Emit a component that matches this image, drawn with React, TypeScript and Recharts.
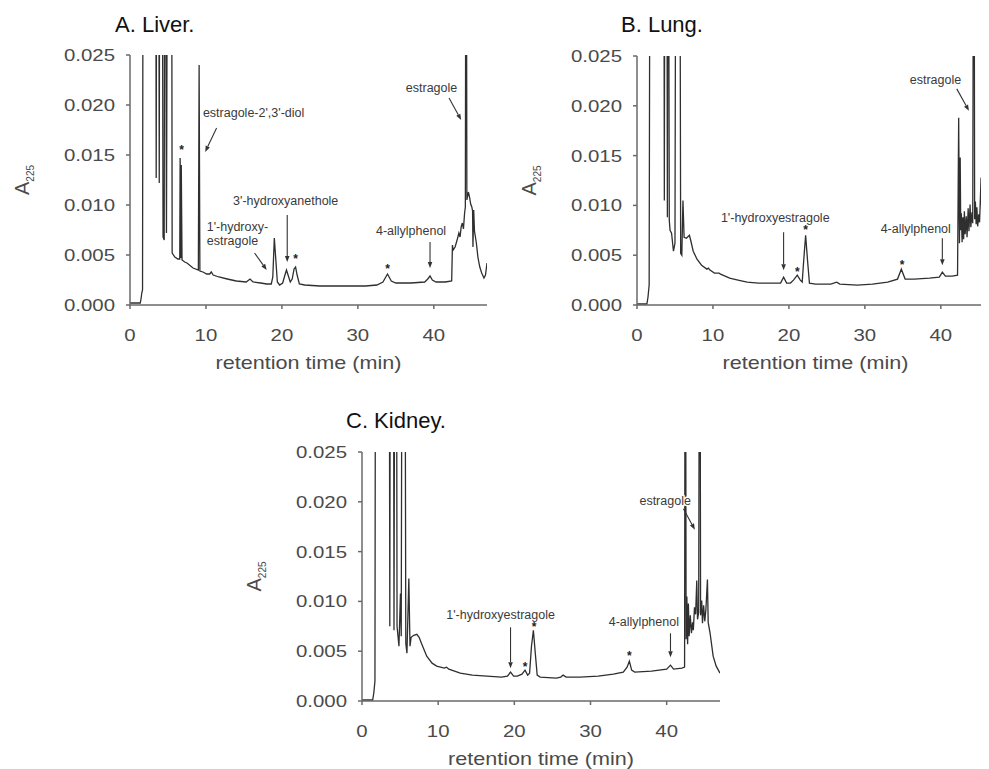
import React from "react";
import { LineChart, Line, XAxis, YAxis, ReferenceLine, ReferenceDot } from "recharts";

type Pt = [number, number];
type Note = { t: number; v: number; text: string; anchor: "start" | "middle" | "end" };
type Arrow = [number, number, number, number];

// retention time (min) vs A225
const timeTicks = [0, 10, 20, 30, 40];
const absTicks = [0, 0.005, 0.01, 0.015, 0.02, 0.025];

// values above 0.025 are off-scale peaks (clipped by the plot)
const liverTrace: Pt[] = [
  [0, 0.0002], [1.35, 0.0002], [1.45, 0.0006], [1.55, 0.0012], [1.65, 0.0015], [1.75, 0.06],
  [3.35, 0.06], [3.45, 0.0127], [3.55, 0.06], [3.75, 0.06], [3.85, 0.0122], [3.95, 0.06],
  [4.2, 0.06], [4.35, 0.0068], [4.5, 0.0065], [4.6, 0.06], [4.8, 0.0072], [5.0, 0.06],
  [5.45, 0.06], [5.55, 0.0052], [5.9, 0.0048], [6.3, 0.0046], [6.55, 0.0046], [6.6, 0.0147],
  [6.68, 0.0047], [6.75, 0.014], [6.85, 0.0045], [7.2, 0.0043], [7.5, 0.0042], [8.3, 0.0037],
  [9.0, 0.0035], [9.1, 0.024], [9.2, 0.0034], [9.6, 0.0033], [10.1, 0.0031], [10.5, 0.0031],
  [10.7, 0.0033], [10.95, 0.003], [11.7, 0.0028], [12.8, 0.0026], [14.0, 0.0024], [15.3, 0.0023],
  [15.8, 0.0026], [16.2, 0.0023], [17.2, 0.0022], [18.0, 0.0021], [18.6, 0.0021], [18.8, 0.0028],
  [19.0, 0.0067], [19.2, 0.0045], [19.4, 0.0023], [19.7, 0.002], [20.1, 0.0022], [20.4, 0.003],
  [20.6, 0.0035], [20.85, 0.0029], [21.1, 0.0023], [21.35, 0.0026], [21.6, 0.0036], [21.8, 0.0038],
  [22.0, 0.003], [22.3, 0.0021], [23, 0.002], [25, 0.0019], [28, 0.0019], [31, 0.0019],
  [32.5, 0.002], [33.3, 0.0023], [33.9, 0.0031], [34.4, 0.0024], [35, 0.0022], [37, 0.0022],
  [38.8, 0.0023], [39.2, 0.0026], [39.5, 0.0029], [39.8, 0.0025], [40.3, 0.0023], [41.5, 0.0023],
  [42.35, 0.0024], [42.45, 0.006], [42.55, 0.0055], [42.8, 0.0058], [43.1, 0.0066], [43.3, 0.0072],
  [43.45, 0.0068], [43.6, 0.0078], [43.75, 0.0082], [43.9, 0.0076], [44.05, 0.0092], [44.15, 0.0098],
  [44.25, 0.06], [44.35, 0.0105], [44.55, 0.0113], [44.7, 0.0108], [44.85, 0.0101], [45.0, 0.0098],
  [45.1, 0.0094], [45.15, 0.0058], [45.25, 0.0095], [45.35, 0.0074], [45.6, 0.0062], [45.8, 0.0048],
  [46.05, 0.0038], [46.3, 0.0032], [46.6, 0.0027], [46.8, 0.003], [47, 0.0042],
];

const lungTrace: Pt[] = [
  [0, 0.0001], [1.3, 0.0001], [1.45, 0.0008], [1.6, 0.002], [1.75, 0.06], [3.5, 0.06],
  [3.6, 0.0105], [3.7, 0.06], [3.9, 0.06], [4.0, 0.0088], [4.1, 0.06], [4.25, 0.0085],
  [4.35, 0.0075], [4.55, 0.0072], [4.8, 0.0054], [5.0, 0.0062], [5.15, 0.06], [5.6, 0.06],
  [5.75, 0.0052], [5.9, 0.005], [6.05, 0.0105], [6.2, 0.0068], [6.5, 0.0067], [6.9, 0.007],
  [7.1, 0.0064], [7.4, 0.0054], [7.9, 0.0046], [8.5, 0.004], [9.2, 0.0036], [9.4, 0.0037],
  [9.6, 0.0035], [10.2, 0.0032], [10.8, 0.0032], [11.0, 0.0031], [12.2, 0.0027], [13.3, 0.0025],
  [14.5, 0.0023], [16, 0.0022], [17.5, 0.0022], [18.9, 0.0022], [19.3, 0.0028], [19.7, 0.0022],
  [20.2, 0.0022], [20.6, 0.0025], [21.1, 0.003], [21.5, 0.0025], [21.75, 0.0023], [21.95, 0.0045],
  [22.2, 0.007], [22.45, 0.0045], [22.7, 0.0022], [23.5, 0.0021], [25.5, 0.0021], [26.3, 0.0023],
  [26.7, 0.0021], [29, 0.002], [31, 0.0021], [33, 0.0023], [34.3, 0.0026], [34.8, 0.0036],
  [35.3, 0.0026], [36.5, 0.0026], [38.5, 0.0027], [39.8, 0.0028], [40.2, 0.0033], [40.6, 0.0029],
  [41.5, 0.0029], [42.2, 0.003], [42.35, 0.0188], [42.45, 0.0062], [42.55, 0.0148], [42.62, 0.0075],
  [42.7, 0.0092], [42.8, 0.0063], [42.9, 0.0088], [43.0, 0.0066], [43.1, 0.0094], [43.2, 0.0071],
  [43.35, 0.0089], [43.45, 0.0068], [43.6, 0.0097], [43.7, 0.0074], [43.85, 0.0101], [43.95, 0.0078],
  [44.1, 0.0093], [44.2, 0.0082], [44.35, 0.06], [44.45, 0.0086], [44.55, 0.0104], [44.65, 0.0081],
  [44.75, 0.0098], [44.85, 0.0079], [45.0, 0.0091], [45.1, 0.0083], [45.3, 0.0128], [45.4, 0.0084],
  [45.6, 0.0074], [45.8, 0.0058], [46.1, 0.0042], [46.4, 0.0034], [46.7, 0.003], [47, 0.0028],
];

const kidneyTrace: Pt[] = [
  [0, 0.0001], [1.4, 0.0001], [1.55, 0.0008], [1.7, 0.002], [1.8, 0.06], [3.55, 0.06],
  [3.65, 0.0075], [3.75, 0.06], [4.1, 0.06], [4.2, 0.0071], [4.35, 0.06], [4.5, 0.06],
  [4.6, 0.0075], [4.85, 0.0055], [5.05, 0.0108], [5.15, 0.0065], [5.3, 0.06], [5.6, 0.06],
  [5.75, 0.0058], [5.9, 0.0048], [6.15, 0.0123], [6.3, 0.0055], [6.45, 0.0064], [6.8, 0.0066],
  [7.2, 0.0067], [7.5, 0.0064], [7.8, 0.0058], [8.5, 0.0045], [9.2, 0.0038], [9.8, 0.0035],
  [10.8, 0.0033], [11.1, 0.0034], [11.4, 0.0032], [12.9, 0.0028], [14.5, 0.0026], [16.4, 0.0025],
  [18.3, 0.0024], [19.1, 0.0025], [19.5, 0.0029], [19.9, 0.0025], [20.4, 0.0025], [21.0, 0.0027],
  [21.4, 0.0031], [21.75, 0.0026], [22.0, 0.0028], [22.25, 0.0055], [22.5, 0.0071], [22.75, 0.0048],
  [23.0, 0.0026], [23.4, 0.0024], [25.5, 0.0023], [26.1, 0.0024], [26.4, 0.0026], [26.8, 0.0024],
  [28.6, 0.0024], [31, 0.0025], [33, 0.0027], [34.3, 0.0029], [34.8, 0.0034], [35.1, 0.004],
  [35.4, 0.0031], [35.8, 0.0029], [38, 0.003], [40.0, 0.0032], [40.5, 0.0036], [40.9, 0.0032],
  [42.0, 0.0033], [42.35, 0.0034], [42.45, 0.06], [42.55, 0.0062], [42.65, 0.0105], [42.75, 0.0057],
  [42.85, 0.0098], [42.95, 0.0065], [43.1, 0.0086], [43.25, 0.0068], [43.4, 0.0079], [43.5, 0.0071],
  [43.65, 0.0094], [43.8, 0.0087], [43.95, 0.0121], [44.05, 0.0082], [44.2, 0.0089], [44.35, 0.06],
  [44.45, 0.0086], [44.6, 0.0101], [44.7, 0.0078], [44.85, 0.0096], [45.0, 0.008], [45.15, 0.0092],
  [45.35, 0.0122], [45.45, 0.0079], [45.7, 0.0068], [46.1, 0.0045], [46.5, 0.0035], [47, 0.0028],
];

// peak labels, arrows [t1, v1, t2, v2] and "*" marks, in data units
const liverLabels: Note[] = [
  { t: 9.6, v: 0.0192, text: "estragole-2',3'-diol", anchor: "start" },
  { t: 10.1, v: 0.0078, text: "1'-hydroxy-", anchor: "start" },
  { t: 10.1, v: 0.0064, text: "estragole", anchor: "start" },
  { t: 20.5, v: 0.0104, text: "3'-hydroxyanethole", anchor: "middle" },
  { t: 37.0, v: 0.0074, text: "4-allylphenol", anchor: "middle" },
  { t: 39.7, v: 0.0217, text: "estragole", anchor: "middle" },
];
const liverArrows: Arrow[] = [
  [11.4, 0.0177, 9.9, 0.0153],
  [16.4, 0.0052, 18.0, 0.0035],
  [20.7, 0.009, 20.7, 0.0043],
  [39.5, 0.0063, 39.5, 0.0037],
  [42.0, 0.0207, 43.6, 0.0185],
];
const liverStars: Pt[] = [[6.8, 0.0157], [21.8, 0.0048], [33.9, 0.0038]];

const lungLabels: Note[] = [
  { t: 18.2, v: 0.0088, text: "1'-hydroxyestragole", anchor: "middle" },
  { t: 36.7, v: 0.0077, text: "4-allylphenol", anchor: "middle" },
  { t: 39.3, v: 0.0226, text: "estragole", anchor: "middle" },
];
const lungArrows: Arrow[] = [
  [19.3, 0.0073, 19.3, 0.0035],
  [40.2, 0.0067, 40.2, 0.004],
  [42.1, 0.0217, 43.7, 0.0195],
];
const lungStars: Pt[] = [[21.1, 0.0035], [22.2, 0.0077], [34.9, 0.0042]];

const kidneyLabels: Note[] = [
  { t: 18.2, v: 0.0087, text: "1'-hydroxyestragole", anchor: "middle" },
  { t: 37.0, v: 0.008, text: "4-allylphenol", anchor: "middle" },
  { t: 39.8, v: 0.0201, text: "estragole", anchor: "middle" },
];
const kidneyArrows: Arrow[] = [
  [19.5, 0.0074, 19.5, 0.0033],
  [40.5, 0.0068, 40.5, 0.0044],
  [42.2, 0.0193, 43.7, 0.0172],
];
const kidneyStars: Pt[] = [[21.4, 0.0036], [22.6, 0.0076], [35.1, 0.0047]];

const FONT = "'Liberation Sans', Arial, Helvetica, sans-serif";
const TEXT = "#4a4a4a";
const AXIS = "#6a6a6a";
const TRACE = "#2f2f2f";

const XTick = ({ x, y, payload }: any) => (
  <text transform={`translate(${x},${y}) scale(1.2,1)`} textAnchor="middle" dy="0.71em"
    fontSize={17} fill={TEXT} fontFamily={FONT}>
    {payload.value}
  </text>
);

const YTick = ({ x, y, payload }: any) => (
  <text transform={`translate(${x},${y}) scale(1.2,1)`} textAnchor="end" dy="0.355em"
    fontSize={17} fill={TEXT} fontFamily={FONT}>
    {Number(payload.value).toFixed(3)}
  </text>
);

const yLabel = (p: any) => {
  const vb = p.viewBox;
  const cx = vb.x + vb.width - 107;
  const cy = vb.y + vb.height / 2;
  return (
    <text transform={`translate(${cx},${cy}) rotate(-90)`} textAnchor="middle" dy="0.35em"
      fill={TEXT} fontFamily={FONT}>
      <tspan fontSize={20}>A</tspan>
      <tspan fontSize={10} dy={5}>225</tspan>
    </text>
  );
};

const xLabel = (p: any) => {
  const vb = p.viewBox;
  return (
    <text transform={`translate(${vb.x + vb.width / 2},${vb.y + 64}) scale(1.2,1)`}
      textAnchor="middle" fontSize={18} fill={TEXT} fontFamily={FONT}>
      retention time (min)
    </text>
  );
};

const arrowShape = (p: any) => {
  const { x1, y1, x2, y2 } = p;
  const a = Math.atan2(y2 - y1, x2 - x1);
  const L = 6, W = 2.3;
  const bx = x2 - L * Math.cos(a);
  const by = y2 - L * Math.sin(a);
  const pts = `${x2},${y2} ${bx - W * Math.sin(a)},${by + W * Math.cos(a)} ${bx + W * Math.sin(a)},${by - W * Math.cos(a)}`;
  return (
    <g>
      <line x1={x1} y1={y1} x2={bx} y2={by} stroke="#333" strokeWidth={1.1} />
      <polygon points={pts} fill="#333" />
    </g>
  );
};

interface PanelProps {
  title: string;
  trace: Pt[];
  labels: Note[];
  arrows: Arrow[];
  stars: Pt[];
  left: number;
  top: number;
  yAxisWidth: number;
  marginTop: number;
  plotW: number;
  plotH: number;
  titleLeft: number;
  titleTop: number;
}

function Panel(p: PanelProps) {
  const data = p.trace.map(([t, v]) => ({ t, v }));
  const width = p.yAxisWidth + p.plotW + 10;
  const height = p.marginTop + p.plotH + 70;
  return (
    <>
      <div style={{
        position: "absolute", left: p.titleLeft, top: p.titleTop, fontFamily: FONT,
        fontSize: 22, lineHeight: "22px", color: "#111", whiteSpace: "nowrap",
      }}>
        {p.title}
      </div>
      <div style={{ position: "absolute", left: p.left, top: p.top }}>
        <LineChart width={width} height={height} data={data}
          margin={{ top: p.marginTop, right: 10, bottom: 0, left: 0 }}>
          <XAxis type="number" dataKey="t" domain={[0, 47]} ticks={timeTicks} allowDataOverflow
            height={70} tickSize={4} tickMargin={20} tick={<XTick />}
            axisLine={{ stroke: AXIS, strokeWidth: 1.5 }} tickLine={{ stroke: AXIS, strokeWidth: 1.5 }}
            label={xLabel} />
          <YAxis type="number" domain={[0, 0.025]} ticks={absTicks} allowDataOverflow
            width={p.yAxisWidth} tickSize={4} tickMargin={11} tick={<YTick />}
            axisLine={{ stroke: AXIS, strokeWidth: 1.5 }} tickLine={{ stroke: AXIS, strokeWidth: 1.5 }}
            label={yLabel} />
          <Line type="linear" dataKey="v" stroke={TRACE} strokeWidth={1.3} dot={false}
            isAnimationActive={false} />
          {p.arrows.map((a, i) => (
            <ReferenceLine key={`a${i}`} segment={[{ x: a[0], y: a[1] }, { x: a[2], y: a[3] }]}
              shape={arrowShape} />
          ))}
          {p.labels.map((l, i) => (
            <ReferenceDot key={`l${i}`} x={l.t} y={l.v} r={0}
              shape={(s: any) => (
                <text x={s.cx} y={s.cy} dy="0.35em" textAnchor={l.anchor} fontSize={12.5}
                  fill="#3a3a3a" fontFamily={FONT} stroke="#fff" strokeWidth={3}
                  paintOrder="stroke" strokeLinejoin="round">
                  {l.text}
                </text>
              )} />
          ))}
          {p.stars.map((s, i) => (
            <ReferenceDot key={`s${i}`} x={s[0]} y={s[1]} r={0}
              shape={(d: any) => (
                <text x={d.cx} y={d.cy} dy={6} textAnchor="middle" fontSize={12} fontWeight="bold"
                  fill="#222" fontFamily={FONT}>
                  *
                </text>
              )} />
          ))}
        </LineChart>
      </div>
    </>
  );
}

export default function App() {
  return (
    <div style={{ position: "relative", width: 981, height: 761, overflow: "hidden", background: "#fff" }}>
      <Panel title="A. Liver." trace={liverTrace} labels={liverLabels} arrows={liverArrows} stars={liverStars}
        left={0} top={0} yAxisWidth={122} marginTop={47} plotW={357} plotH={250}
        titleLeft={107} titleTop={6} />
      <Panel title="B. Lung." trace={lungTrace} labels={lungLabels} arrows={lungArrows} stars={lungStars}
        left={500} top={0} yAxisWidth={129} marginTop={48} plotW={357} plotH={249}
        titleLeft={613} titleTop={6} />
      <Panel title="C. Kidney." trace={kidneyTrace} labels={kidneyLabels} arrows={kidneyArrows} stars={kidneyStars}
        left={225} top={392} yAxisWidth={129} marginTop={52} plotW={358} plotH={249}
        titleLeft={338} titleTop={402} />
    </div>
  );
}
